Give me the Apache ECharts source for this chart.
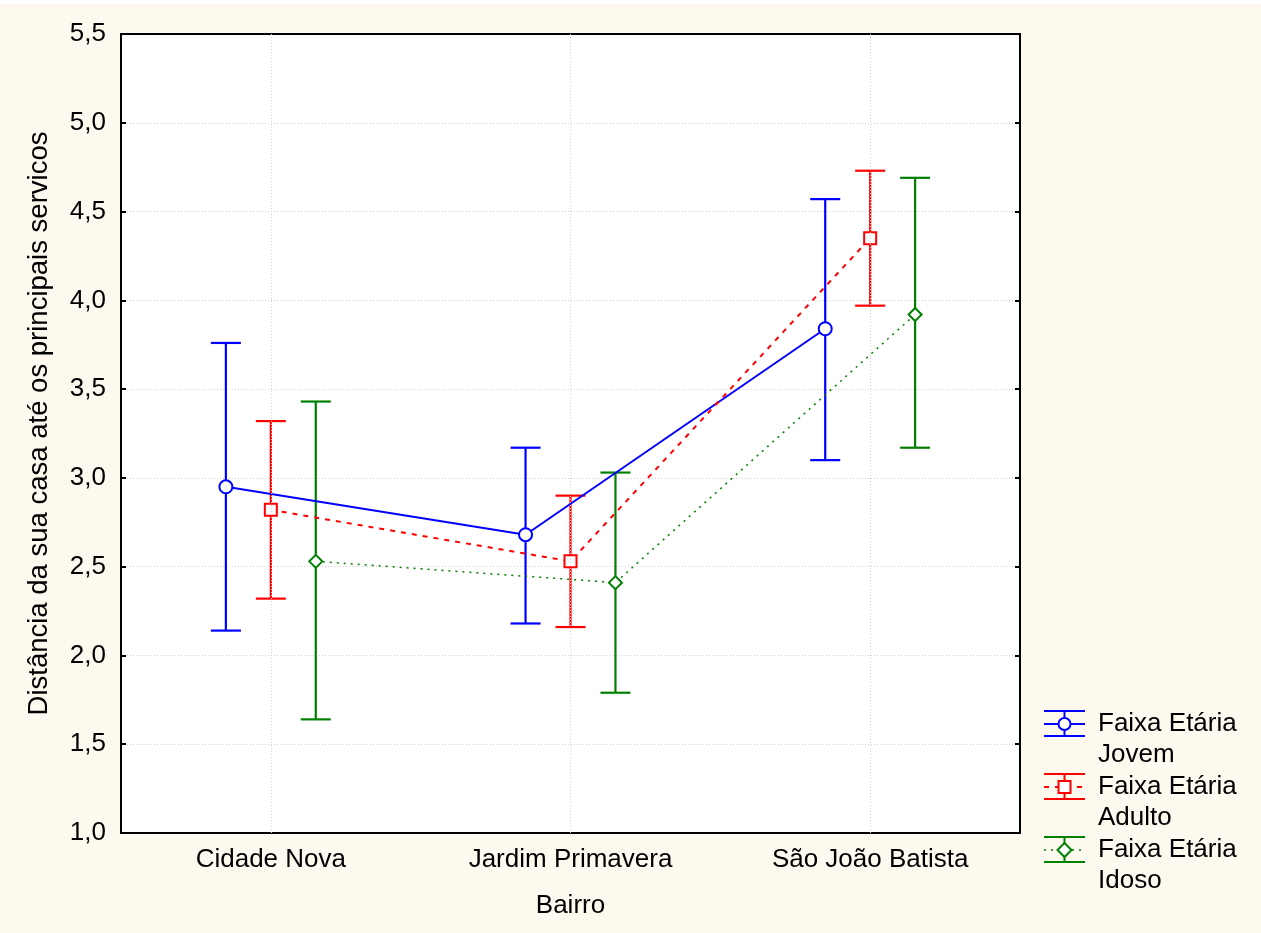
<!DOCTYPE html>
<html>
<head>
<meta charset="utf-8">
<script src="https://cdn.jsdelivr.net/npm/echarts@6/dist/echarts.min.js"></script>
<style>
html,body{margin:0;padding:0;background:#fdf9ef;}
#chart{width:1261px;height:933px;}
</style>
</head>
<body>
<div id="chart"></div>
<script>
// ---- data ----
const categories = ['Cidade Nova', 'Jardim Primavera', 'São João Batista'];
const yTicks = [1.0, 1.5, 2.0, 2.5, 3.0, 3.5, 4.0, 4.5, 5.0, 5.5];
const seriesNames = ['Faixa Etária\nJovem', 'Faixa Etária\nAdulto', 'Faixa Etária\nIdoso'];

const jovemMean = [2.95, 2.68, 3.84];
const jovemLow  = [2.14, 2.18, 3.10];
const jovemHigh = [3.76, 3.17, 4.57];

const adultoMean = [2.82, 2.53, 4.35];
const adultoLow  = [2.32, 2.16, 3.97];
const adultoHigh = [3.32, 2.90, 4.73];

const idosoMean = [2.53, 2.41, 3.92];
const idosoLow  = [1.64, 1.79, 3.17];
const idosoHigh = [3.43, 3.03, 4.69];

// ---- styling ----
const FONT = 'Liberation Sans, Arial, sans-serif';
const colors = ['#0000ff', '#ff0000', '#008000'];
const symbols = ['emptyCircle', 'emptyRect', 'emptyDiamond'];
const symbolSizes = [13, 12, 13];
const lineTypes = ['solid', [5, 6], [2, 5]];
const lineWidths = [2, 2, 1.5];
const DODGE = 0.15;
const CAP = 15;

const groups = [
  {mean: jovemMean, low: jovemLow, high: jovemHigh},
  {mean: adultoMean, low: adultoLow, high: adultoHigh},
  {mean: idosoMean, low: idosoLow, high: idosoHigh}
];

const series = [];
groups.forEach((g, k) => {
  const off = (k - 1) * DODGE;
  const errData = categories.map((c, i) => [i + off, g.low[i], g.high[i]]);
  series.push({
    type: 'custom',
    xAxisIndex: 2,
    yAxisIndex: 0,
    z: 3,
    silent: true,
    data: errData,
    encode: {x: 0, y: [1, 2]},
    renderItem: (params, api) => {
      const x = api.value(0);
      const pLo = api.coord([x, api.value(1)]);
      const pHi = api.coord([x, api.value(2)]);
      const st = {stroke: colors[k], lineWidth: 2.2};
      return {
        type: 'group',
        children: [
          {type: 'line', shape: {x1: pLo[0], y1: pLo[1], x2: pHi[0], y2: pHi[1]}, style: st},
          {type: 'line', shape: {x1: pHi[0] - CAP, y1: pHi[1], x2: pHi[0] + CAP, y2: pHi[1]}, style: st},
          {type: 'line', shape: {x1: pLo[0] - CAP, y1: pLo[1], x2: pLo[0] + CAP, y2: pLo[1]}, style: st}
        ]
      };
    },
    markLine: k === 0 ? {
      silent: true,
      symbol: 'none',
      label: {show: false},
      lineStyle: {color: '#d0d0d0', type: [1, 2], width: 1},
      data: categories.map((c, i) => ({xAxis: i}))
    } : undefined
  });
  series.push({
    type: 'line',
    name: seriesNames[k],
    xAxisIndex: 2,
    yAxisIndex: 0,
    z: 4,
    data: categories.map((c, i) => [i + off, g.mean[i]]),
    symbol: symbols[k],
    symbolSize: symbolSizes[k],
    showAllSymbol: true,
    itemStyle: {color: colors[k], borderWidth: 2.2},
    lineStyle: {color: colors[k], width: lineWidths[k], type: lineTypes[k]},
    emphasis: {disabled: true},
    animation: false
  });
});

// ---- legend drawn as graphics ----
const legendGraphics = [];
const LX = 1044, LW = 41, LT = 711, STEP = 63;
groups.forEach((g, k) => {
  const top = LT + k * STEP;
  const cy = top + 13, bot = top + 25, cx = LX + LW / 2;
  const st = {stroke: colors[k], lineWidth: 2};
  legendGraphics.push(
    {type: 'line', shape: {x1: LX, y1: top, x2: LX + LW, y2: top}, style: st},
    {type: 'line', shape: {x1: LX, y1: bot, x2: LX + LW, y2: bot}, style: st},
    {type: 'line', shape: {x1: cx, y1: top, x2: cx, y2: bot}, style: st},
    {type: 'line', shape: {x1: LX, y1: cy, x2: LX + LW, y2: cy},
      style: {stroke: colors[k], lineWidth: lineWidths[k], lineDash: k === 0 ? null : lineTypes[k]}}
  );
  if (k === 0) {
    legendGraphics.push({type: 'circle', shape: {cx: cx, cy: cy, r: 6}, style: {fill: '#fff', stroke: colors[k], lineWidth: 2}});
  } else if (k === 1) {
    legendGraphics.push({type: 'rect', shape: {x: cx - 6, y: cy - 6, width: 12, height: 12}, style: {fill: '#fff', stroke: colors[k], lineWidth: 2}});
  } else {
    legendGraphics.push({type: 'polygon', shape: {points: [[cx, cy - 7], [cx + 7, cy], [cx, cy + 7], [cx - 7, cy]]}, style: {fill: '#fff', stroke: colors[k], lineWidth: 2}});
  }
  legendGraphics.push({
    type: 'text', x: 1098, y: cy - 16,
    style: {text: seriesNames[k], font: '26px ' + FONT, fill: '#000', lineHeight: 31, verticalAlign: 'top', align: 'left'}
  });
});

const chart = echarts.init(document.getElementById('chart'), null, {renderer: 'canvas'});
chart.setOption({
  backgroundColor: '#fdf9ef',
  animation: false,
  textStyle: {fontFamily: FONT},
  grid: {left: 121, top: 34, right: 241, bottom: 100, show: true, backgroundColor: '#ffffff', borderColor: '#000', borderWidth: 2},
  xAxis: [
    {
      type: 'category', data: categories, position: 'bottom',
      name: 'Bairro', nameLocation: 'middle', nameGap: 60,
      nameTextStyle: {fontSize: 26, color: '#000', fontFamily: FONT},
      axisLine: {onZero: false, lineStyle: {color: '#000', width: 2}},
      axisTick: {inside: true, alignWithLabel: true, length: 5, lineStyle: {color: '#000', width: 2}},
      axisLabel: {fontSize: 26, color: '#000', margin: 14, fontFamily: FONT},
      splitLine: {show: false}
    },
    {
      type: 'category', data: categories, position: 'top',
      axisLine: {onZero: false, lineStyle: {color: '#000', width: 2}},
      axisTick: {inside: true, alignWithLabel: true, length: 5, lineStyle: {color: '#000', width: 2}},
      axisLabel: {show: false},
      splitLine: {show: false}
    },
    {
      type: 'value', min: -0.5, max: 2.5, show: false, splitLine: {show: false}
    }
  ],
  yAxis: [
    {
      type: 'value', min: yTicks[0], max: yTicks[yTicks.length - 1], interval: 0.5, position: 'left',
      name: 'Distância da sua casa até os principais servicos',
      nameLocation: 'middle', nameGap: 68, nameRotate: 90,
      nameTextStyle: {fontSize: 27.5, color: '#000', fontFamily: FONT, padding: [0, 0, 0, 20]},
      axisLine: {show: true, onZero: false, lineStyle: {color: '#000', width: 2}},
      axisTick: {show: true, inside: true, length: 5, lineStyle: {color: '#000', width: 2}},
      axisLabel: {fontSize: 26, color: '#000', margin: 15, fontFamily: FONT,
        formatter: v => v.toFixed(1).replace('.', ',')},
      splitLine: {show: true, lineStyle: {color: '#d0d0d0', type: [1, 2], width: 1}}
    },
    {
      type: 'value', min: yTicks[0], max: yTicks[yTicks.length - 1], interval: 0.5, position: 'right',
      axisLine: {show: true, onZero: false, lineStyle: {color: '#000', width: 2}},
      axisTick: {show: true, inside: true, length: 5, lineStyle: {color: '#000', width: 2}},
      axisLabel: {show: false},
      splitLine: {show: false}
    }
  ],
  graphic: [{type: 'rect', shape: {x: 0, y: 0, width: 1261, height: 4}, style: {fill: '#ffffff'}, z: 100}].concat(legendGraphics),
  series: series
});
</script>
</body>
</html>
